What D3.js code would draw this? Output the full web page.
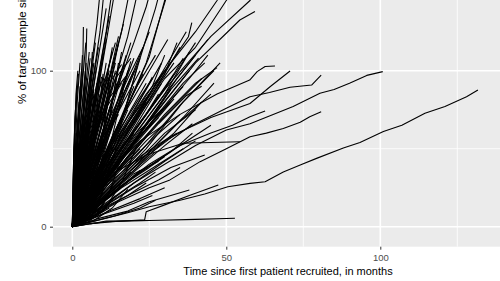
<!DOCTYPE html>
<html>
<head>
<meta charset="utf-8">
<script src="https://cdn.jsdelivr.net/npm/d3@7"></script>
<style>
    body { margin: 0; background: #fff; }
    svg { display: block; font-family: "Liberation Sans", Arial, sans-serif; }
    .tick text { fill: #4d4d4d; font-size: 9.5px; }
    .tick line { stroke: #333; }
    .trial { fill: none; stroke: #000; stroke-width: 1.1; stroke-linejoin: round; }
</style>
</head>
<body>
<svg id="chart" width="500" height="281"></svg>
<script>
// recruitment curves: [month, % of target]
var longTrials = [
    [[0,0],[4,2],[10,5],[18,9],[25,12.8],[35,17],[43,21],[50.5,25.6],[57.7,27.8],[62.6,28.8],[68.5,35],[74,39.5],[79.3,43.8],[88,50.4],[93.4,54],[101,61],[107,65],[114.5,72.7],[121,77],[128,83.3],[131.7,87.6]],
    [[0,0],[5,6],[12,16],[20,28],[30,40],[40,52],[50,62],[57.7,66],[64,71],[71.7,77],[80.4,85.5],[85,88],[90,92],[95.6,97],[100.8,99.4]],
    [[0,0],[6,6],[15,16],[25,25],[31.7,30],[41.5,41.7],[50,50],[57.7,57.7],[63,60],[68.5,63],[74,67],[77.1,70.5],[80.8,73.7]],
    [[0,0],[5,10],[12,25],[20,40],[30,55],[40,66],[50,76],[57.7,83.3],[64,86],[70.7,89.4],[77.7,90.8],[80.8,97.2]],
    [[0,0],[5,12],[12,28],[22,45],[32,58],[45,70],[57.7,79],[64.2,89.7],[70.7,99.8]],
    [[0,0],[5,15],[12,35],[22,55],[35,72],[47,85],[57.6,94],[60,99.4],[62.6,102.7],[65.8,103]],
    [[0,0],[6,10],[15,25],[25,40],[35,52],[45,60],[52,65],[57.7,70.5],[62.6,74.2]],
    [[0,0],[6,18],[14,35],[24,46],[36,53.5],[45,54],[54.4,54.5]],
    [[0,0],[6,2],[15,3.5],[23.5,4.5],[24,9.6],[30,14],[38,20],[47.4,26.7]],
    [[0,0],[3,1],[8,2.5],[11,3.6],[25,4],[40,4.7],[50,5.3],[52.8,5.4]],
    [[0,0],[6,2],[11,3.2],[20,3.8],[25,4]],
    [[0,0],[8,5],[18,10],[25,16],[32,20],[38,23.5]]
];

var tallTrials = [
    [[0,0],[4,70],[8,130],[10,170]],
    [[0,0],[5,72],[9,125],[11,165]],
    [[0,0],[6,70],[11,125],[15,180]],
    [[0,0],[7,72],[12,130],[15,165]],
    [[0,0],[9,70],[16,125],[21,175]],
    [[0,0],[10,68],[18,122],[24,175]],
    [[0,0],[12,75],[20,118],[24,141],[28,170]],
    [[0,0],[13,65],[22,108],[27,140],[31,170]],
    [[0,0],[12,50],[25,109],[30,145],[33,165]],
    [[0,0],[14,60],[24,105],[31,150],[35,175]],
    [[0,0],[15,55],[30,100],[40,125],[47,145],[52,165]],
    [[0,0],[15,52],[30,95],[40,115],[50,145],[55,160]],
    [[0,0],[10,30],[20,55],[30,80],[40,105],[50,124],[54.4,132.5],[59.3,138]],
    [[0,0],[16,50],[30,88],[45,122],[57.7,145],[62,155]],
    [[0,0],[12,45],[25,85],[33.3,109],[37.7,121.8],[38.8,130.8]]
];

var fanTrials = [
    [[0,0],[10,55],[18,85],[22,100]],
    [[0,0],[10,60],[18,95],[23,115]],
    [[0,0],[12,50],[20,72],[25,85]],
    [[0,0],[12,65],[20,100],[25,125]],
    [[0,0],[13,55],[21,80],[26,95]],
    [[0,0],[13,58],[21,90],[27,110]],
    [[0,0],[14,40],[22,58],[28,70]],
    [[0,0],[15,58],[24,85],[30,100]],
    [[0,0],[15,66],[25,100],[31,120]],
    [[0,0],[16,45],[25,65],[32,80]],
    [[0,0],[16,55],[26,85],[33,105]],
    [[0,0],[17,30],[26,48],[34,60]],
    [[0,0],[17,55],[27,88],[35,115]],
    [[0,0],[18,48],[28,72],[36,90]],
    [[0,0],[18,60],[28,95],[37,125]],
    [[0,0],[19,52],[29,78],[38,100]],
    [[0,0],[20,40],[30,60],[40,75]],
    [[0,0],[20,58],[30,85],[40,110]],
    [[0,0],[20,50],[32,75],[42,95]],
    [[0,0],[20,25],[32,38],[43,46]],
    [[0,0],[22,60],[34,95],[44,120]],
    [[0,0],[22,42],[34,66],[45,85]],
    [[0,0],[23,50],[35,78],[46,100]],
    [[0,0],[24,50],[36,80],[48,105]],
    [[0,0],[15,25],[25,38],[30,45]],
    [[0,0],[18,20],[28,30],[35,38]],
    [[0,0],[20,28],[30,42],[40,55]],
    [[0,0],[14,18],[22,28],[27,35]],
    [[0,0],[11,28],[18,42],[22,50]],
    [[0,0],[12,30],[20,48],[25,60]],
    [[0,0],[22,35],[35,52],[45,65]],
    [[0,0],[10,8],[20,15],[26,20]],
    [[0,0],[12,10],[22,18],[30,25]],
    [[0,0],[14,7],[22,12],[27,17]],
    [[0,0],[13,38],[22,62],[29,75]],
    [[0,0],[17,45],[27,68],[33,82]],
    [[0,0],[16,62],[24,88],[29,105]],
    [[0,0],[10,12],[18,20],[24,28]],
    [[0,0],[9,30],[18,62],[24,80]],
    [[0,0],[12,38],[22,66],[28,85]],
    [[0,0],[14,44],[26,78],[33,98]],
    [[0,0],[16,48],[30,85],[38,112]],
    [[0,0],[18,50],[32,88],[41,108]],
    [[0,0],[13,32],[24,55],[31,68]],
    [[0,0],[15,35],[27,58],[35,72]],
    [[0,0],[17,30],[30,52],[39,66]],
    [[0,0],[19,36],[33,60],[42,80]],
    [[0,0],[21,40],[36,70],[46,92]],
    [[0,0],[11,45],[19,75],[24,92]],
    [[0,0],[9,48],[15,78],[19,95]],
    [[0,0],[12,22],[21,38],[27,48]],
    [[0,0],[16,25],[28,40],[36,50]],
    [[0,0],[20,32],[32,48],[39,60]],
    [[0,0],[8,14],[16,26],[22,36]],
    [[0,0],[10,18],[20,34],[28,42]],
    [[0,0],[12,40],[24,72],[34,100],[40,118]],
    [[0,0],[14,38],[26,68],[36,92],[43,105]],
    [[0,0],[10,35],[20,62],[30,88],[36,108]],
    [[0,0],[15,42],[28,72],[38,95],[44,110]],
    [[0,0],[12,44],[22,75],[30,98],[34,118]],
    [[0,0],[18,45],[30,72],[40,92],[47,102]],
    [[0,0],[10,40],[18,66],[26,90],[30,110]],
    [[0,0],[16,40],[28,66],[37,84],[42,90]]
];

var midTrials = [
    [[0,0],[4,40],[9,85]],
    [[0,0],[5,55],[10,110]],
    [[0,0],[5,45],[10.5,95]],
    [[0,0],[5.5,60],[11,120]],
    [[0,0],[6,32],[11.5,70]],
    [[0,0],[6,50],[12,100]],
    [[0,0],[6,68],[12,135]],
    [[0,0],[6.5,42],[12.5,88]],
    [[0,0],[6.5,58],[13,112]],
    [[0,0],[7,28],[13.5,60]],
    [[0,0],[7,50],[14,105]],
    [[0,0],[7.5,45],[14.5,92]],
    [[0,0],[8,60],[15,122]],
    [[0,0],[8,38],[15.5,80]],
    [[0,0],[8,48],[16,100]],
    [[0,0],[8.5,68],[16.6,130]],
    [[0,0],[9,45],[17,95]],
    [[0,0],[9,55],[17.5,110]],
    [[0,0],[9,35],[18,75]],
    [[0,0],[9.5,50],[18.5,102]],
    [[0,0],[10,62],[19,118]],
    [[0,0],[10,42],[20,90]],
    [[0,0],[10,55],[20,108]],
    [[0,0],[5,20],[10,45]],
    [[0,0],[6,14],[12,30]],
    [[0,0],[7,18],[14,40]],
    [[0,0],[8,26],[16,55]],
    [[0,0],[9,20],[18,45]],
    [[0,0],[10,28],[20,60]],
    [[0,0],[4.5,9],[9,20]],
    [[0,0],[5.5,5],[11,12]],
    [[0,0],[7.5,11],[15,25]],
    [[0,0],[9.5,16],[19,35]],
    [[0,0],[6.5,36],[13,75]],
    [[0,0],[8.5,40],[17,85]],
    [[0,0],[4.2,62],[8.5,115]],
    [[0,0],[5.5,72],[11,140]],
    [[0,0],[7,65],[10,90],[14,118]],
    [[0,0],[3,30],[8,62],[12,80]],
    [[0,0],[4,38],[9,70],[16,92]],
    [[0,0],[6,48],[11,80],[18,98]],
    [[0,0],[3,22],[10,58],[15,72]],
    [[0,0],[4,12],[7,48],[9,100]],
    [[0,0],[4,20],[8,65],[10,98]],
    [[0,0],[5,10],[9,45],[12,92]],
    [[0,0],[5,18],[10,60],[13,98]],
    [[0,0],[6,15],[11,55],[15,105]],
    [[0,0],[6,22],[12,70],[16,112]],
    [[0,0],[7,18],[13,58],[18,100]],
    [[0,0],[7,25],[14,72],[19,106]],
    [[0,0],[8,20],[15,60],[21,102]],
    [[0,0],[8,28],[16,68],[22,108]],
    [[0,0],[4,6],[9,25],[13,52]],
    [[0,0],[5,8],[11,30],[16,62]],
    [[0,0],[4.5,30],[8.5,75],[11,105]],
    [[0,0],[5.5,36],[10,82],[13,115]],
    [[0,0],[6.5,40],[12,88],[15,118]],
    [[0,0],[4,30],[9,72],[12,96]],
    [[0,0],[5,32],[11,74],[14,100]],
    [[0,0],[6,34],[13,76],[17,104]],
    [[0,0],[7,36],[15,78],[20,100]],
    [[0,0],[8,34],[17,74],[23,98]],
    [[0,0],[9,32],[19,70],[26,96]],
    [[0,0],[10,30],[21,66],[29,92]],
    [[0,0],[11,28],[23,62],[32,88]],
    [[0,0],[4,50],[8,85],[10,95]],
    [[0,0],[5,52],[10,88],[13,100]],
    [[0,0],[6,56],[12,92],[16,104]],
    [[0,0],[7,58],[14,95],[19,108]],
    [[0,0],[8,8],[12,22],[16,45]],
    [[0,0],[10,10],[16,28],[21,52]],
    [[0,0],[5,3],[10,10],[14,20]],
    [[0,0],[7,4],[13,12],[18,24]],
    [[0,0],[4,3],[8,8],[12,15]],
    [[0,0],[5,6],[10,14],[14,30]],
    [[0,0],[3,5],[7,12],[10,22]],
    [[0,0],[6,5],[12,12]]
];

var earlyTrials = [
    [[0,0],[0.2,20],[0.5,50],[1,75]],
    [[0,0],[0.3,30],[0.8,65],[1.5,90]],
    [[0,0],[0.2,15],[0.6,45],[1.2,85],[1.8,100]],
    [[0,0],[0.4,35],[1,70],[2,98]],
    [[0,0],[0.1,10],[0.4,40],[0.9,60]],
    [[0,0],[0.5,25],[1.2,55],[2.2,80]],
    [[0,0],[0.8,40],[1.6,80],[2.5,105]],
    [[0,0],[1,30],[2,70],[3,88]],
    [[0,0],[0.3,12],[0.8,35]],
    [[0,0],[1.5,45],[2.5,80],[3.2,95]],
    [[0,0],[0.8,22],[1.5,40]],
    [[0,0],[1,35],[2,65]],
    [[0,0],[1.2,45],[2.5,90]],
    [[0,0],[1.5,30],[3,55]],
    [[0,0],[1.6,55],[3.3,110]],
    [[0,0],[1.5,50],[3,85],[3.4,100],[3.6,128]],
    [[0,0],[2,42],[4,80]],
    [[0,0],[2,52],[4.2,100]],
    [[0,0],[2.4,60],[4.2,96],[4.5,110],[4.7,127]],
    [[0,0],[2.5,28],[5,60]],
    [[0,0],[2.4,50],[5,95]],
    [[0,0],[2.8,60],[5.5,112]],
    [[0,0],[3,36],[6,75]],
    [[0,0],[3,55],[6,100]],
    [[0,0],[3.2,40],[6.5,88]],
    [[0,0],[3.5,55],[7,105]],
    [[0,0],[3.5,22],[7,50]],
    [[0,0],[3.8,62],[7.5,118]],
    [[0,0],[4,45],[8,92]],
    [[0,0],[4,32],[8,70]],
    [[0,0],[1.4,14],[2.8,30]],
    [[0,0],[2.2,9],[4.5,20]],
    [[0,0],[3,15],[6,35]],
    [[0,0],[1.5,52],[3,100]],
    [[0,0],[2.9,58],[5.8,108]],
    [[0,0],[0.5,10],[1,20]],
    [[0,0],[3.9,50],[7.8,102]],
    [[0,0],[3.4,48],[6.8,96]],
    [[0,0],[1,25],[2.2,50]],
    [[0,0],[1.8,38],[3.5,72]],
    [[0,0],[2.6,44],[5.2,85]],
    [[0,0],[0.6,15],[1.3,32],[2,45]],
    [[0,0],[4.2,25],[7.2,62]],
    [[0,0],[2.3,70],[4.4,118]],
    [[0,0],[1.2,40],[2.4,78]],
    [[0,0],[3.3,30],[6.2,58]],
    [[0,0],[2,20],[4,42]],
    [[0,0],[5,70],[6.4,104]],
    [[0,0],[2,10],[4,40],[6,80]],
    [[0,0],[3,8],[5,35],[7,70]],
    [[0,0],[2,5],[4,28],[5,55]],
    [[0,0],[1,6],[3,45],[4,90]],
    [[0,0],[2,12],[3,50],[4.5,105]],
    [[0,0],[3,15],[5,60],[6.5,112]],
    [[0,0],[3,4],[7,18],[10,40]],
    [[0,0],[2,3],[6,14],[9,32]],
    [[0,0],[1,8],[2,20],[3,38]],
    [[0,0],[1,12],[2.5,35],[3.5,60]],
    [[0,0],[1.5,10],[3.5,40],[5,70]],
    [[0,0],[2.5,18],[5,52],[7,85]],
    [[0,0],[3.5,24],[6.5,62],[8.5,95]],
    [[0,0],[2,25],[5,62],[7,88]],
    [[0,0],[3,28],[7,68],[9.5,96]],
    [[0,0],[3,40],[6,70],[8,82]],
    [[0,0],[2,30],[4,55],[6,65]],
    [[0,0],[1,15],[2,40],[3,75]],
    [[0,0],[2,22],[3.5,55],[5,85]],
    [[0,0],[0.5,5],[1.5,25],[2.5,55]],
    [[0,0],[1,4],[2,18],[3,42]],
    [[0,0],[4,8],[6,20],[8,45]],
    [[0,0],[6,6],[9,18],[12,38]],
    [[0,0],[3,2],[6,6],[8,12]]
];

var xTicks = [0, 50, 100],
    xMinor = [25, 75, 125],
    yTicks = [0, 100],
    yMinor = [50, 150];

var svg = d3.select("#chart"),
    panel = {left: 53, right: 500, top: 0, bottom: 246.7};

var x = d3.scaleLinear().domain([0, 100]).range([72.3, 380.3]),
    y = d3.scaleLinear().domain([0, 100]).range([226.7, 70.7]);

svg.append("rect")
    .attr("x", panel.left)
    .attr("y", panel.top)
    .attr("width", panel.right - panel.left)
    .attr("height", panel.bottom - panel.top)
    .attr("fill", "#ebebeb");

var grid = svg.append("g");
grid.selectAll(".vminor").data(xMinor).enter().append("line")
    .attr("x1", function (d) { return x(d); }).attr("x2", function (d) { return x(d); })
    .attr("y1", panel.top).attr("y2", panel.bottom)
    .attr("stroke", "#fff").attr("stroke-width", 0.8);
grid.selectAll(".hminor").data(yMinor).enter().append("line")
    .attr("y1", function (d) { return y(d); }).attr("y2", function (d) { return y(d); })
    .attr("x1", panel.left).attr("x2", panel.right)
    .attr("stroke", "#fff").attr("stroke-width", 0.8);
grid.selectAll(".vmajor").data(xTicks).enter().append("line")
    .attr("x1", function (d) { return x(d); }).attr("x2", function (d) { return x(d); })
    .attr("y1", panel.top).attr("y2", panel.bottom)
    .attr("stroke", "#fff").attr("stroke-width", 1.6);
grid.selectAll(".hmajor").data(yTicks).enter().append("line")
    .attr("y1", function (d) { return y(d); }).attr("y2", function (d) { return y(d); })
    .attr("x1", panel.left).attr("x2", panel.right)
    .attr("stroke", "#fff").attr("stroke-width", 1.6);

var line = d3.line()
    .x(function (d) { return x(d[0]); })
    .y(function (d) { return y(d[1]); });

var allTrials = earlyTrials.concat(midTrials, fanTrials, tallTrials, longTrials);

svg.append("g").selectAll("path")
    .data(allTrials)
    .enter().append("path")
    .attr("class", "trial")
    .attr("d", line);

// axes
var xAxis = svg.append("g")
    .attr("transform", "translate(0," + panel.bottom + ")")
    .call(d3.axisBottom(x).tickValues(xTicks).tickSize(3).tickPadding(4.5));
xAxis.select(".domain").remove();

var yAxis = svg.append("g")
    .attr("transform", "translate(" + panel.left + ",0)")
    .call(d3.axisLeft(y).tickValues(yTicks).tickSize(3).tickPadding(3.5));
yAxis.select(".domain").remove();

svg.append("text")
    .attr("x", 288)
    .attr("y", 275)
    .attr("text-anchor", "middle")
    .attr("font-size", "11px")
    .attr("fill", "#000")
    .text("Time since first patient recruited, in months");

svg.append("text")
    .attr("transform", "translate(25.5,104)rotate(-90)")
    .attr("text-anchor", "start")
    .attr("font-size", "11.5px")
    .attr("fill", "#000")
    .text("% of targe sample size");
</script>
</body>
</html>
